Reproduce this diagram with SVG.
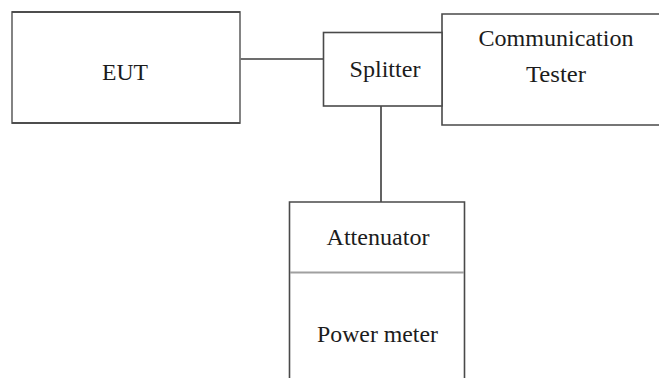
<svg xmlns="http://www.w3.org/2000/svg" width="659" height="378" viewBox="0 0 659 378">
<style>
.box{fill:#fff;stroke:#4a4a4a;stroke-width:1.6}
.light{fill:#fff;stroke:#777;stroke-width:1.8}
.wire{fill:none;stroke:#3c3c3c;stroke-width:1.6}
.div{fill:none;stroke:#a0a0a0;stroke-width:2}
text{font-family:"Liberation Serif","Times New Roman",serif;font-size:23px;fill:#1c1c1c;text-anchor:middle}
</style>
<rect width="659" height="378" fill="#fff"/>
<g id="connectors">
<line class="wire" x1="240" y1="59" x2="323.5" y2="59"/>
<line class="wire" x1="381" y1="106" x2="381" y2="202"/>
</g>
<g id="eut">
<rect class="light" x="12" y="12" width="228" height="111"/>
<line class="wire" x1="12" y1="12" x2="240" y2="12"/>
<line class="wire" x1="12" y1="123" x2="240" y2="123"/>
<text x="125" y="79.5" textLength="46" lengthAdjust="spacingAndGlyphs">EUT</text>
</g>
<g id="tester">
<path class="box" d="M662 14 H442 V125 H662"/>
<text x="556" y="46" textLength="155" lengthAdjust="spacingAndGlyphs">Communication</text>
<text x="556" y="82" textLength="60" lengthAdjust="spacingAndGlyphs">Tester</text>
</g>
<g id="splitter">
<rect class="box" x="323.5" y="32.5" width="118.5" height="73.5"/>
<text x="385" y="76.5" textLength="71" lengthAdjust="spacingAndGlyphs">Splitter</text>
</g>
<g id="attenuator">
<path class="box" d="M289.5 380 V202 H464.5 V380"/>
<line class="div" x1="290" y1="272.5" x2="464" y2="272.5"/>
<text x="378" y="245" textLength="103" lengthAdjust="spacingAndGlyphs">Attenuator</text>
</g>
<g id="powermeter">
<text x="377.5" y="341.5" textLength="121" lengthAdjust="spacingAndGlyphs">Power meter</text>
</g>
</svg>
